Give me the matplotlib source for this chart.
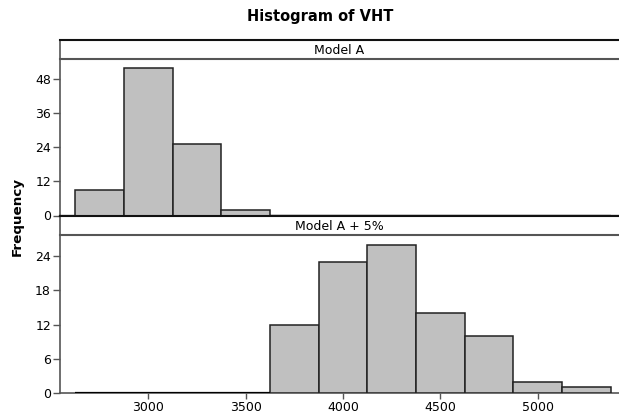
import matplotlib
matplotlib.use("Agg")
import matplotlib.pyplot as plt
import numpy as np

plt.rcParams['font.family'] = ['DejaVu Sans']

# Data
bin_edges = [2625, 2875, 3125, 3375, 3625, 3875, 4125, 4375, 4625, 4875, 5125, 5375]
counts_model_a = [9, 52, 25, 2, 0, 0, 0, 0, 0, 0, 0]
counts_model_a5 = [0, 0, 0, 0, 12, 23, 26, 14, 10, 2, 1]
panel_labels = ["Model A", "Model A + 5%"]
yticks_top = [0, 12, 24, 36, 48]
yticks_bot = [0, 6, 12, 18, 24]
xticks = [3000, 3500, 4000, 4500, 5000]

W, H = 619, 416
fig = plt.figure(figsize=(W / 100, H / 100), dpi=100)

def px_axes(left, top, right, bottom):
    return fig.add_axes([left / W, 1 - bottom / H, (right - left) / W, (bottom - top) / H])

L, R = 60, 619
xlim = (2547, 5418)
fill = "#c0c0c0"
edge = "#222222"
axcol = "#555555"

ax1 = px_axes(L, 59, R, 215.5)
ax2 = px_axes(L, 235, R, 393)
s1 = px_axes(L, 39.5, R, 59)
s2 = px_axes(L, 215.5, R, 235)

edges = np.array(bin_edges)
widths = np.diff(edges)
for ax, counts, yt, ylim in [(ax1, counts_model_a, yticks_top, 55.0), (ax2, counts_model_a5, yticks_bot, 27.7)]:
    c = np.array(counts)
    nz = c > 0
    ax.bar(edges[:-1][nz], c[nz], width=widths[nz], align='edge', color=fill, edgecolor=edge, linewidth=1.1, zorder=3)
    ax.bar(edges[:-1][~nz], c[~nz], width=widths[~nz], align='edge', color=fill, edgecolor='#000000', linewidth=1.6, zorder=3)
    ax.set_xlim(*xlim)
    ax.set_ylim(0, ylim)
    ax.set_yticks(yt)
    ax.tick_params(axis='y', direction='out', length=5, width=1, color=axcol, labelsize=9, pad=1.5)
    for sp in ['top', 'right']:
        ax.spines[sp].set_visible(False)
    ax.spines['left'].set_color(axcol)
    ax.spines['bottom'].set_color(axcol)
    ax.spines['left'].set_linewidth(1.2)
    ax.spines['bottom'].set_linewidth(1.2)
    ax.set_facecolor('none')

ax1.set_xticks([])
ax1.spines['bottom'].set_color('#111111')
ax1.spines['bottom'].set_linewidth(1.6)
ax2.set_xticks(xticks)
ax2.tick_params(axis='x', direction='out', length=4, width=1, color=axcol, labelsize=9, pad=2)

for s, lab in [(s1, panel_labels[0]), (s2, panel_labels[1])]:
    s.set_xticks([]); s.set_yticks([])
    s.set_xlim(0, 1); s.set_ylim(0, 1)
    s.spines['right'].set_visible(False)
    s.spines['top'].set_color('#111111')
    s.spines['top'].set_linewidth(1.5)
    s.spines['bottom'].set_color(axcol)
    s.spines['bottom'].set_linewidth(1.5)
    s.spines['left'].set_color(axcol)
    s.spines['left'].set_linewidth(1.2)
    s.text(0.5, 0.45, lab, ha='center', va='center', fontsize=9)

fig.text(320 / W, 1 - 16 / H, "Histogram of VHT", ha='center', va='center', fontsize=10.5, fontweight='bold')
fig.text(17 / W, 1 - 217 / H, "Frequency", ha='center', va='center', rotation=90, fontsize=9.7, fontweight='bold')

fig.savefig("out.png", dpi=100)
